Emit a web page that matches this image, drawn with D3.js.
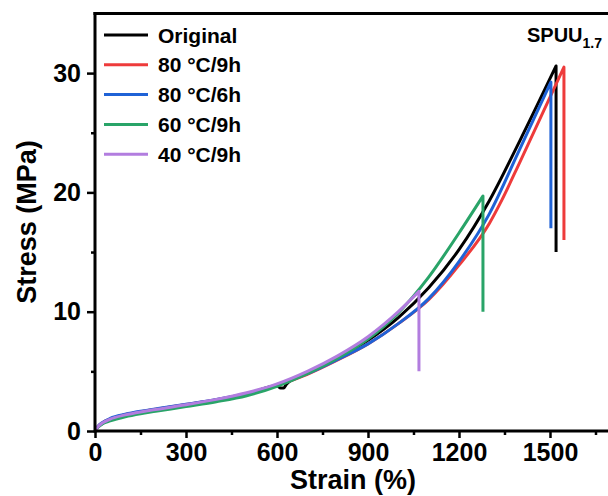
<!DOCTYPE html>
<html><head><meta charset="utf-8">
<script src="https://cdn.jsdelivr.net/npm/d3@7"></script>
<style>
html,body{margin:0;padding:0;background:#fff;}
svg{display:block;font-family:"Liberation Sans",Arial,sans-serif;font-weight:bold;}
</style></head>
<body><svg id="c" width="608" height="496"></svg>
<script>
const seriesNames = ["Original", "80 °C/9h", "80 °C/6h", "60 °C/9h", "40 °C/9h"];
const seriesColors = ["#000000", "#ee3b3b", "#1f62d6", "#29a468", "#b27ddf"];

const strainOriginal = [0,10,25,50,100,150,200,300,400,500,600,612,622,632,700,800,900,1000,1100,1200,1300,1400,1520,1520];
const stressOriginal = [0,0.35,0.65,0.95,1.3,1.55,1.75,2.15,2.6,3.1,3.8,3.6,3.6,3.95,4.8,6.1,7.6,9.5,12.0,15.2,19.3,24.3,30.6,15.0];

const strain80C9h = [0,10,25,50,100,150,200,300,400,500,600,700,800,900,1000,1100,1200,1300,1342,1400,1546,1546];
const stress80C9h = [0,0.38,0.7,1.0,1.38,1.62,1.82,2.22,2.62,3.12,3.82,4.75,5.95,7.3,9.0,11.0,13.9,17.4,19.4,22.5,30.5,16.0];

const strain80C6h = [0,10,25,50,100,150,200,300,400,500,600,700,800,900,1000,1100,1200,1300,1400,1503,1503];
const stress80C6h = [0,0.4,0.72,1.05,1.4,1.65,1.85,2.25,2.65,3.15,3.85,4.8,6.0,7.3,9.0,11.1,14.2,18.2,23.6,29.25,17.0];

const strain60C9h = [0,10,25,50,100,150,200,300,400,500,600,700,800,900,1000,1100,1200,1279,1279];
const stress60C9h = [0,0.32,0.6,0.85,1.2,1.45,1.65,2.05,2.45,2.95,3.75,4.8,6.1,7.7,9.9,12.9,16.6,19.7,10.0];

const strain40C9h = [0,10,25,50,100,150,200,300,400,500,600,700,800,900,1000,1068,1068];
const stress40C9h = [0,0.36,0.68,1.0,1.35,1.6,1.8,2.2,2.65,3.2,3.95,5.0,6.3,7.9,10.0,11.7,5.0];

const xTicks = [0,300,600,900,1200,1500];
const xMinor = [150,450,750,1050,1350,1650];
const yTicks = [0,10,20,30];
const yMinor = [5,15,25];

const svg = d3.select("#c");
const x = d3.scaleLinear().domain([0,1700]).range([95, 95 + 1700*0.30333]);
const y = d3.scaleLinear().domain([0,35]).range([431, 431 - 35*11.93]);

const series = [
  {sx: strainOriginal, sy: stressOriginal},
  {sx: strain80C9h, sy: stress80C9h},
  {sx: strain80C6h, sy: stress80C6h},
  {sx: strain60C9h, sy: stress60C9h},
  {sx: strain40C9h, sy: stress40C9h}
];

const line = d3.line().x(d=>x(d[0])).y(d=>y(d[1])).curve(d3.curveMonotoneX);
series.forEach((s,i)=>{
  const pts = s.sx.map((v,k)=>[v, s.sy[k]]);
  const rise = pts.slice(0,-1);
  const last = pts[pts.length-1];
  const dstr = line(rise) + "L" + x(last[0]) + "," + y(last[1]);
  svg.append("path").attr("d", dstr).attr("fill","none")
    .attr("stroke", seriesColors[i]).attr("stroke-width", 3).attr("stroke-linejoin","round");
});

// axes
const xAxis = d3.axisBottom(x).tickValues(xTicks).tickSize(7).tickPadding(5).tickFormat(d3.format("d"));
const gx = svg.append("g").attr("transform","translate(0,431)").call(xAxis);
gx.select(".domain").remove();
gx.selectAll(".tick line").attr("stroke","#000").attr("stroke-width",2.5);
gx.selectAll(".tick text").attr("font-size",25).attr("font-weight","bold").attr("fill","#000")
  .attr("font-family","'Liberation Sans',Arial,sans-serif").attr("dy","0.72em");
const gxm = svg.append("g").attr("transform","translate(0,431)")
  .call(d3.axisBottom(x).tickValues(xMinor).tickSize(4).tickFormat(""));
gxm.select(".domain").remove();
gxm.selectAll(".tick line").attr("stroke","#000").attr("stroke-width",2.5);

const yAxis = d3.axisLeft(y).tickValues(yTicks).tickSize(8).tickPadding(6);
const gy = svg.append("g").attr("transform","translate(95,0)").call(yAxis);
gy.select(".domain").remove();
gy.selectAll(".tick line").attr("stroke","#000").attr("stroke-width",2.5);
gy.selectAll(".tick text").attr("font-size",25).attr("font-weight","bold").attr("fill","#000")
  .attr("font-family","'Liberation Sans',Arial,sans-serif");
const gym = svg.append("g").attr("transform","translate(95,0)")
  .call(d3.axisLeft(y).tickValues(yMinor).tickSize(4).tickFormat(""));
gym.select(".domain").remove();
gym.selectAll(".tick line").attr("stroke","#000").attr("stroke-width",2.5);

// frame lines
svg.append("line").attr("x1",x(0)).attr("x2",608).attr("y1",y(0)).attr("y2",y(0)).attr("stroke","#000").attr("stroke-width",3);
svg.append("line").attr("x1",x(0)).attr("x2",x(0)).attr("y1",y(35)-1.5).attr("y2",y(0)+1.5).attr("stroke","#000").attr("stroke-width",3);
svg.append("line").attr("x1",x(0)-1.5).attr("x2",608).attr("y1",y(35)).attr("y2",y(35)).attr("stroke","#000").attr("stroke-width",3);

// axis titles
svg.append("text").attr("x",353).attr("y",489).attr("text-anchor","middle")
  .attr("font-size",27).attr("fill","#000").text("Strain (%)");
svg.append("text").attr("transform","translate(36,222) rotate(-90)").attr("text-anchor","middle")
  .attr("font-size",27).attr("fill","#000").text("Stress (MPa)");

// legend
const lg = svg.append("g");
seriesNames.forEach((n,i)=>{
  const ly = 35 + i*29.8;
  lg.append("line").attr("x1",104).attr("x2",148).attr("y1",ly).attr("y2",ly)
    .attr("stroke",seriesColors[i]).attr("stroke-width",3);
  lg.append("text").attr("x",158).attr("y",ly+7.5).attr("font-size",21).attr("fill","#000").text(n);
});

// title
const t = svg.append("text").attr("x",527).attr("y",42).attr("font-size",20).attr("fill","#000");
t.append("tspan").text("SPUU");
t.append("tspan").attr("font-size",14).attr("dy",6).text("1.7");
</script></body></html>
